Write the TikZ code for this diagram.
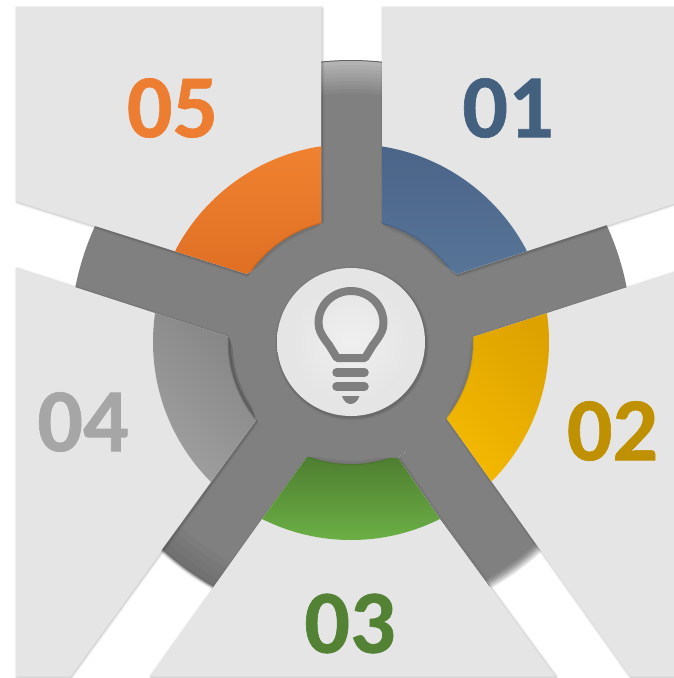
\documentclass[tikz,border=0pt]{standalone}
\usepackage{fontspec}
\setmainfont{Carlito}[BoldFeatures={FakeBold=0.7}]
\definecolor{panelc}{HTML}{E6E5E6}
\definecolor{armc}{HTML}{808080}
\definecolor{bulbc}{HTML}{7F7F7F}
\definecolor{num1}{HTML}{44607F}
\definecolor{num2}{HTML}{BF9000}
\definecolor{num3}{HTML}{548235}
\definecolor{num4}{HTML}{A6A6A6}
\definecolor{num5}{HTML}{ED7D31}
\definecolor{orA}{HTML}{F08332}\definecolor{orB}{HTML}{DF6E22}
\definecolor{blA}{HTML}{4A6488}\definecolor{blB}{HTML}{587598}
\definecolor{yeA}{HTML}{DDA200}\definecolor{yeB}{HTML}{F4B900}
\definecolor{grA}{HTML}{4E7D30}\definecolor{grB}{HTML}{6DB247}
\definecolor{gyA}{HTML}{848484}\definecolor{gyB}{HTML}{A0A0A0}
\pgfdeclareradialshading{badgeshade}{\pgfpointorigin}{%
  color(0bp)=(panelc!60!white); color(20bp)=(panelc); color(33bp)=(panelc);
  color(42bp)=(panelc!60!white); color(47bp)=(panelc!10!white); color(50bp)=(panelc!30!white); color(100bp)=(panelc)}
\tikzset{
  numlabel/.style={inner sep=0pt,font=\bfseries\fontsize{90}{90}\selectfont},
  rung/.style={draw=bulbc,line width=8.5pt,line cap=round},
}
% soft shadow of a closed outline
\newcommand{\softshadow}[1]{%
  \foreach \w/\o in {5/0.03,3/0.05,1.5/0.08}{
    \draw[black,opacity=\o,line width=\w pt,line join=round,shift={(1pt,-1pt)}] #1 -- cycle;
  }}
% one panel with its ring sector: outline, colour A, colour B, shading angle, box corners
\newcommand{\panel}[6]{%
  \softshadow{#1}
  \fill[panelc] #1 -- cycle;
  \begin{scope}
    \clip #1 -- cycle;
    \clip (351,342) circle[radius=198];
    \shade[shading=axis,left color=#2,right color=#3,shading angle=#4] #5 rectangle #6;
  \end{scope}}
\begin{document}
\begin{tikzpicture}[x=1pt,y=-1pt]
\useasboundingbox (0,0) rectangle (674,678);
\fill[white] (0,0) rectangle (674,678);
% big grey disc: the arms
\fill[armc] (351,342) circle[radius=281];
% light rim on the top arm
\begin{scope}
  \clip (318,50) rectangle (384,110);
  \fill[black!25!armc] (351,342) circle[radius=282];
  \foreach \r/\c in {281/40,277/35,273/30,269/25,265/20,261/15,257/10,253/5}{
    \fill[white!\c!armc] (351,342) circle[radius=\r];
  }
  \fill[armc] (351,342) circle[radius=249];
\end{scope}
% fading end of the lower right arm, and of the lower left arm
\begin{scope}
  \clip (447,419) -- (630,676) -- (555,676) -- (398,458) -- cycle;
  \fill[white] (351,342) circle[radius=300];
  \foreach \r/\c in {283/75,281/55,279/35,277/18,275/6}{
    \fill[white!\c!armc] (351,342) circle[radius=\r];
  }
  \fill[armc] (351,342) circle[radius=273];
\end{scope}
\begin{scope}
  \clip (256,420) -- (70,676) -- (150,676) -- (307,457) -- cycle;
  \fill[white] (351,342) circle[radius=300];
  \foreach \r/\c in {284/10,283/25,282/45,281/62,280/70}{
    \fill[black!\c!armc!\c!white] (351,342) circle[radius=\r];
  }
  \foreach \r/\c in {279/88,272/91,265/94,258/97}{
    \fill[armc!\c!black] (351,342) circle[radius=\r];
  }
  \fill[armc] (351,342) circle[radius=251];
\end{scope}
% panels and ring sectors
\panel{(16,7) -- (321,7) -- (321,224) -- (247,274) -- (16,201)}{orA}{orB}{0}{(170,140)}{(325,280)}
\panel{(382,7) -- (674,7) -- (674,203) -- (457,274) -- (382,224)}{blA}{blB}{0}{(378,140)}{(530,280)}
\panel{(674,272) -- (473,337) -- (447,419) -- (630,676) -- (674,676)}{yeA}{yeB}{315}{(440,305)}{(555,485)}
\panel{(150,676) -- (262,519) -- (307,457) -- (398,458) -- (440,519) -- (555,676)}{grA}{grB}{0}{(255,455)}{(445,545)}
\panel{(16,268) -- (229,337) -- (256,420) -- (70,676) -- (16,676)}{gyA}{gyB}{315}{(148,310)}{(260,485)}
% hub
\fill[armc] (351,342) circle[radius=122];
% shadows of the sectors on the hub
\foreach \a/\o in {
  {(321,224) -- (247,274) -- (180,230) -- (321,100)}/.06,
  {(382,224) -- (457,274) -- (520,230) -- (382,100)}/.06,
  {(473,337) -- (447,419) -- (540,430) -- (560,310)}/.03,
  {(307,457) -- (398,458) -- (430,530) -- (270,530)}/.04,
  {(229,337) -- (256,420) -- (150,420) -- (150,310)}/.14}{
  \begin{scope}
    \clip \a -- cycle;
    \draw[black,opacity=\o,line width=5pt] (351,342) circle[radius=121];
    \draw[black,opacity=\o,line width=2.5pt] (351,342) circle[radius=121.5];
  \end{scope}
}
% light bulb badge
\foreach \w/\o in {6/0.03,4/0.05,2/0.08}{
  \fill[black,opacity=\o] (352,343.5) circle[radius={74+\w/2}];
}
\shade[shading=badgeshade] (351,342) circle[radius=74];
\draw[bulbc,line width=8pt,line join=round]
  (337,358) -- (329,345)
  .. controls (322,336) and (318.5,330) .. (318.5,323)
  .. controls (318.5,305) and (333,291) .. (351,291)
  .. controls (369,291) and (383.5,305) .. (383.5,323)
  .. controls (383.5,330) and (380,336) .. (373,345)
  -- (365,358) -- cycle;
\draw[rung] (336.5,372.5) -- (364.5,372.5);
\draw[rung] (336.5,386.5) -- (364.5,386.5);
\fill[bulbc] (342,396) -- (359.5,396) .. controls (358,401) and (354,404) .. (350.7,404)
  .. controls (347,404) and (343.5,401) .. (342,396) -- cycle;
% numbers
\node[numlabel,text=num5] (n5) at (172.5,108) {05};
\node[numlabel,text=num1] (n1) at (508,108) {01};
\node[numlabel,text=num2] (n2) at (612.5,431) {02};
\node[numlabel,text=num3] (n3) at (350,623.5) {03};
\node[numlabel,text=num4] (n4) at (83,422) {04};
\end{tikzpicture}
\end{document}
